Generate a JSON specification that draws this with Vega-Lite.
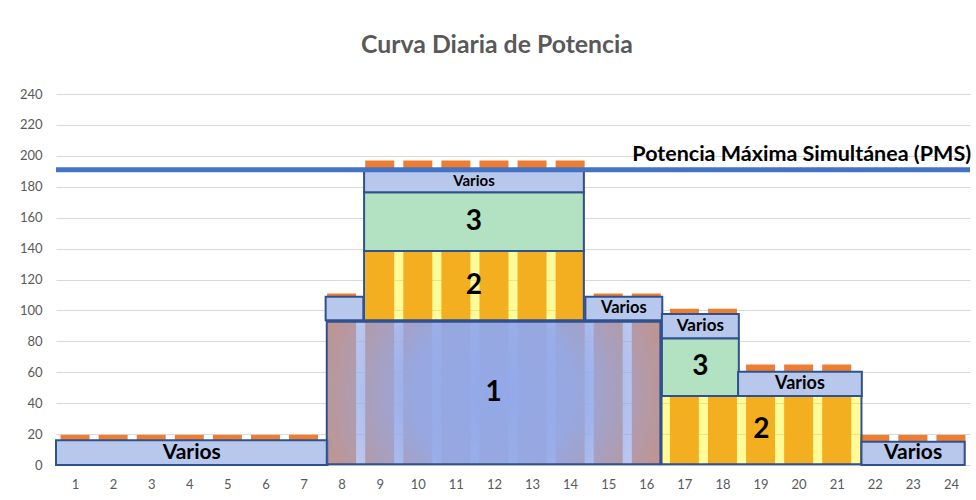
{
  "$schema": "https://vega.github.io/schema/vega-lite/v6.json",
  "width": 914,
  "height": 371,
  "autosize": {"type": "none"},
  "padding": {"left": 56, "top": 94, "right": 6, "bottom": 35},
  "background": "white",
  "config": {"font": "Lato", "view": {"stroke": null}, "scale": {"continuousPadding": 0}, "axis": {"labelOverlap": false, "labelFlush": false, "labelSeparation": 0, "labelColor": "#595959", "labelFontSize": 13, "labelFont": "Lato", "ticks": false, "domain": false, "title": null}},
  "title": {"text": "Curva Diaria de Potencia", "fontSize": 24.8, "fontWeight": "bold", "color": "#595959", "font": "Lato", "anchor": "middle", "dx": -16, "offset": 30},
  "datasets": {
    "bars": [
      {"hour": 1, "value": 19.5}, {"hour": 2, "value": 19.5}, {"hour": 3, "value": 19.5}, {"hour": 4, "value": 19.5},
      {"hour": 5, "value": 19.5}, {"hour": 6, "value": 19.5}, {"hour": 7, "value": 19.5}, {"hour": 8, "value": 111},
      {"hour": 9, "value": 197}, {"hour": 10, "value": 197}, {"hour": 11, "value": 197}, {"hour": 12, "value": 197},
      {"hour": 13, "value": 197}, {"hour": 14, "value": 197}, {"hour": 15, "value": 111}, {"hour": 16, "value": 111},
      {"hour": 17, "value": 101}, {"hour": 18, "value": 101}, {"hour": 19, "value": 65}, {"hour": 20, "value": 65},
      {"hour": 21, "value": 65}, {"hour": 22, "value": 19.5}, {"hour": 23, "value": 19.5}, {"hour": 24, "value": 19.5}
    ],
    "shapes": [
      {"id": "v1", "kind": "Varios", "text": "Varios", "from": 0.5, "to": 7.63, "low": 0, "high": 16},
      {"id": "v8", "kind": "Varios", "text": "", "from": 7.58, "to": 8.57, "low": 93.6, "high": 108.9},
      {"id": "c1", "kind": "1", "text": "1", "from": 7.61, "to": 16.37, "low": 0.5, "high": 92.7},
      {"id": "c2a", "kind": "2", "text": "2", "from": 8.59, "to": 14.36, "low": 93.6, "high": 138.4},
      {"id": "c3a", "kind": "3", "text": "3", "from": 8.59, "to": 14.36, "low": 138.4, "high": 176.4},
      {"id": "v9", "kind": "Varios", "text": "Varios", "from": 8.59, "to": 14.36, "low": 176.4, "high": 190.8},
      {"id": "v15", "kind": "Varios", "text": "Varios", "from": 14.4, "to": 16.42, "low": 93.6, "high": 108.9},
      {"id": "v17", "kind": "Varios", "text": "Varios", "from": 16.41, "to": 18.43, "low": 81.9, "high": 97.7},
      {"id": "c3b", "kind": "3", "text": "3", "from": 16.41, "to": 18.43, "low": 44.6, "high": 81.9},
      {"id": "v19", "kind": "Varios", "text": "Varios", "from": 18.41, "to": 21.66, "low": 44.6, "high": 60.4},
      {"id": "c2b", "kind": "2", "text": "2", "from": 16.4, "to": 21.65, "low": 0.5, "high": 44.6},
      {"id": "v22", "kind": "Varios", "text": "Varios", "from": 21.65, "to": 24.36, "low": 0, "high": 15.1}
    ],
    "pms": [{"label": "Potencia Máxima Simultánea (PMS)", "value": 191}]
  },
  "layer": [
    {
      "data": {"name": "bars"},
      "mark": {"type": "bar", "width": 29, "color": "#ED7D31"},
      "encoding": {
        "x": {"field": "hour", "type": "quantitative", "scale": {"domain": [0.5, 24.5], "nice": false, "zero": false, "padding": 0},
              "axis": {"title": null, "values": [1,2,3,4,5,6,7,8,9,10,11,12,13,14,15,16,17,18,19,20,21,22,23,24], "format": "d", "grid": false, "labelPadding": 13, "labelOverlap": false}},
        "y": {"field": "value", "type": "quantitative", "scale": {"domain": [0, 240], "nice": false, "padding": 0},
              "axis": {"title": null, "values": [0,20,40,60,80,100,120,140,160,180,200,220,240], "grid": true, "gridColor": "#D9D9D9", "labelPadding": 14, "labelOverlap": false}}
      }
    },
    {
      "data": {"name": "shapes"},
      "transform": [{"filter": "datum.kind != '1'"}],
      "mark": {"type": "rect", "stroke": "#2F528F", "strokeWidth": 2},
      "encoding": {
        "x": {"field": "from", "type": "quantitative", "scale": {"domain": [0.5, 24.5], "nice": false, "zero": false, "padding": 0},
              "axis": {"title": null, "values": [1,2,3,4,5,6,7,8,9,10,11,12,13,14,15,16,17,18,19,20,21,22,23,24], "format": "d", "grid": false, "labelPadding": 13, "labelOverlap": false}},
        "x2": {"field": "to"},
        "y": {"field": "low", "type": "quantitative", "scale": {"domain": [0, 240], "nice": false, "padding": 0},
              "axis": {"title": null, "values": [0,20,40,60,80,100,120,140,160,180,200,220,240], "grid": true, "gridColor": "#D9D9D9", "labelPadding": 14, "labelOverlap": false}},
        "y2": {"field": "high"},
        "fill": {"field": "kind", "type": "nominal", "legend": null,
                 "scale": {"domain": ["Varios", "2", "3"], "range": ["#B7C8EC", "rgba(255,245,10,0.42)", "#B3E2C3"]}}
      }
    },
    {
      "data": {"name": "shapes"},
      "transform": [{"filter": "datum.kind == '1'"}],
      "mark": {"type": "rect", "stroke": "#2F528F", "strokeWidth": 2,
               "fill": {"gradient": "radial", "x1": 0.5, "y1": 0.5, "r1": 0, "x2": 0.5, "y2": 0.5, "r2": 0.62,
                        "stops": [{"offset": 0, "color": "rgba(147,169,232,1)"}, {"offset": 0.4, "color": "rgba(147,169,232,0.95)"}, {"offset": 1, "color": "rgba(150,170,230,0.4)"}]}},
      "encoding": {
        "x": {"field": "from", "type": "quantitative", "scale": {"domain": [0.5, 24.5], "nice": false, "zero": false, "padding": 0},
              "axis": {"title": null, "values": [1,2,3,4,5,6,7,8,9,10,11,12,13,14,15,16,17,18,19,20,21,22,23,24], "format": "d", "grid": false, "labelPadding": 13, "labelOverlap": false}},
        "x2": {"field": "to"},
        "y": {"field": "low", "type": "quantitative", "scale": {"domain": [0, 240], "nice": false, "padding": 0},
              "axis": {"title": null, "values": [0,20,40,60,80,100,120,140,160,180,200,220,240], "grid": true, "gridColor": "#D9D9D9", "labelPadding": 14, "labelOverlap": false}},
        "y2": {"field": "high"}
      }
    },
    {
      "data": {"name": "shapes"},
      "transform": [
        {"filter": "datum.text != ''"},
        {"calculate": "(datum.from + datum.to) / 2", "as": "xm"},
        {"calculate": "(datum.low + datum.high) / 2", "as": "ym"}
      ],
      "mark": {"type": "text", "fontWeight": "bold", "color": "black", "baseline": "middle", "align": "center", "font": "Lato"},
      "encoding": {
        "x": {"field": "xm", "type": "quantitative", "scale": {"domain": [0.5, 24.5], "nice": false, "zero": false, "padding": 0},
              "axis": {"title": null, "values": [1,2,3,4,5,6,7,8,9,10,11,12,13,14,15,16,17,18,19,20,21,22,23,24], "format": "d", "grid": false, "labelPadding": 13, "labelOverlap": false}},
        "y": {"field": "ym", "type": "quantitative", "scale": {"domain": [0, 240], "nice": false, "padding": 0},
              "axis": {"title": null, "values": [0,20,40,60,80,100,120,140,160,180,200,220,240], "grid": true, "gridColor": "#D9D9D9", "labelPadding": 14, "labelOverlap": false}},
        "text": {"field": "text"},
        "size": {"field": "id", "type": "nominal", "legend": null,
                 "scale": {"type": "ordinal", "domain": ["v1", "c1", "c2a", "c3a", "v9", "v15", "v17", "c3b", "v19", "c2b", "v22"],
                           "range": [21, 28, 28, 28, 15, 16.5, 17, 28, 18, 28, 21]}}
      }
    },
    {
      "data": {"name": "pms"},
      "mark": {"type": "rule", "color": "#4472C4", "strokeWidth": 5},
      "encoding": {
        "y": {"field": "value", "type": "quantitative", "scale": {"domain": [0, 240], "nice": false, "padding": 0},
              "axis": {"title": null, "values": [0,20,40,60,80,100,120,140,160,180,200,220,240], "grid": true, "gridColor": "#D9D9D9", "labelPadding": 14, "labelOverlap": false}}
      }
    },
    {
      "data": {"name": "pms"},
      "mark": {"type": "text", "align": "right", "baseline": "alphabetic", "dy": -9, "dx": 3, "fontSize": 21.5, "fontWeight": "bold", "color": "black", "font": "Lato"},
      "encoding": {
        "x": {"datum": 24.45, "type": "quantitative", "scale": {"domain": [0.5, 24.5], "nice": false, "zero": false, "padding": 0},
              "axis": {"title": null, "values": [1,2,3,4,5,6,7,8,9,10,11,12,13,14,15,16,17,18,19,20,21,22,23,24], "format": "d", "grid": false, "labelPadding": 13, "labelOverlap": false}},
        "y": {"field": "value", "type": "quantitative", "scale": {"domain": [0, 240], "nice": false, "padding": 0},
              "axis": {"title": null, "values": [0,20,40,60,80,100,120,140,160,180,200,220,240], "grid": true, "gridColor": "#D9D9D9", "labelPadding": 14, "labelOverlap": false}},
        "text": {"field": "label"}
      }
    }
  ]
}
